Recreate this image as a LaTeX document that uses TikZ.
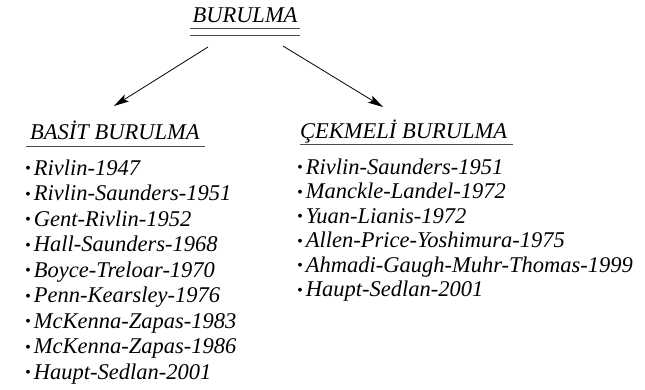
\documentclass[tikz,border=0pt]{standalone}
\usepackage{fontspec}
\setmainfont{Liberation Serif}
\usetikzlibrary{arrows.meta}
\newcommand\mybul{\raisebox{1.5pt}{\fontsize{16}{16}\selectfont •}\hspace{3pt}}
\begin{document}
\begin{tikzpicture}[x=1pt,y=-1pt,
  txt/.style={inner sep=0pt,anchor=base west,font=\fontsize{22.5}{27}\selectfont\itshape},
  uline/.style={draw=black!70,line width=1pt},
  arr/.style={line width=0.8pt,-{Stealth[length=15pt,width=8pt,inset=3pt]}}]
\useasboundingbox (0,0) rectangle (645,389);
% title
\node[txt,anchor=base] (title) at (245,22) {BURULMA};
\draw[uline] (190,28.5) -- (300,28.5);
\draw[uline] (190,35.5) -- (300,35.5);
% arrows
\coordinate (l0) at (208,47);
\coordinate (l1) at (114,106);
\coordinate (r0) at (283,46);
\coordinate (r1) at (383,107);
\draw[arr] (l0) -- (l1);
\draw[arr] (r0) -- (r1);
% headings
\node[txt] (basit) at (30,139) {BASİT BURULMA};
\draw[uline] (26,146) -- (205,146);
\node[txt] (cekmeli) at (300,138) {ÇEKMELİ BURULMA};
\draw[uline] (300,144) -- (513,144);
% left list
\node[txt] (b1) at (25,175)   {\mybul Rivlin-1947};
\node[txt] (b2) at (25,200.5) {\mybul Rivlin-Saunders-1951};
\node[txt] (b3) at (25,226)   {\mybul Gent-Rivlin-1952};
\node[txt] (b4) at (25,251.5) {\mybul Hall-Saunders-1968};
\node[txt] (b5) at (25,277)   {\mybul Boyce-Treloar-1970};
\node[txt] (b6) at (25,302.5) {\mybul Penn-Kearsley-1976};
\node[txt] (b7) at (25,328)   {\mybul McKenna-Zapas-1983};
\node[txt] (b8) at (25,353.5) {\mybul McKenna-Zapas-1986};
\node[txt] (b9) at (25,379)   {\mybul Haupt-Sedlan-2001};
% right list
\node[txt] (c1) at (297,174)   {\mybul Rivlin-Saunders-1951};
\node[txt] (c2) at (297,198.5) {\mybul Manckle-Landel-1972};
\node[txt] (c3) at (297,223)   {\mybul Yuan-Lianis-1972};
\node[txt] (c4) at (297,247.5) {\mybul Allen-Price-Yoshimura-1975};
\node[txt] (c5) at (297,272)   {\mybul Ahmadi-Gaugh-Muhr-Thomas-1999};
\node[txt] (c6) at (297,296.5) {\mybul Haupt-Sedlan-2001};
\end{tikzpicture}
\end{document}
